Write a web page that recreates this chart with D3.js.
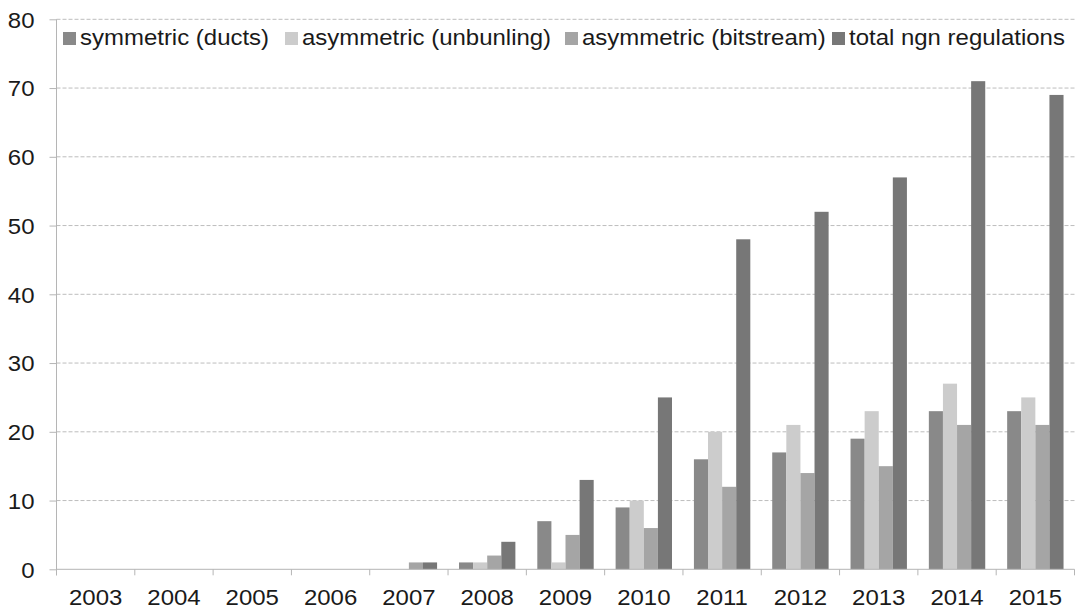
<!DOCTYPE html>
<html>
<head>
<meta charset="utf-8">
<script src="https://cdn.jsdelivr.net/npm/d3@7"></script>
<style>
  body { margin: 0; background: #fff; }
  svg text { font-family: "Liberation Sans", Arial, sans-serif; fill: #1a1a1a; }
</style>
</head>
<body>
<svg class="svgChart"></svg>
<script>
// data
const years = ['2003', '2004', '2005', '2006', '2007', '2008', '2009', '2010', '2011', '2012', '2013', '2014', '2015'];
const seriesNames = ['symmetric (ducts)', 'asymmetric (unbunling)', 'asymmetric (bitstream)', 'total ngn regulations'];
const symmetric = [0, 0, 0, 0, 0, 1, 7, 9, 16, 17, 19, 23, 23];
const unbundling = [0, 0, 0, 0, 0, 1, 1, 10, 20, 21, 23, 27, 25];
const bitstream = [0, 0, 0, 0, 1, 2, 5, 6, 12, 14, 15, 21, 21];
const total = [0, 0, 0, 0, 1, 4, 13, 25, 48, 52, 57, 71, 69];
const yTicks = [0, 10, 20, 30, 40, 50, 60, 70, 80];
const colors = ['#898989', '#cccccc', '#a5a5a5', '#777777'];

const margin = { top: 19.3, right: 4.5, bottom: 40.7, left: 56.5 };
const fullW = 1079, fullH = 610;
const width = fullW - margin.left - margin.right;
const height = fullH - margin.top - margin.bottom;
const fontSize = 22;
const stretch = 1.09; // the reference text is a bit wide for its height

const allSeries = [symmetric, unbundling, bitstream, total];

const svg = d3.select('.svgChart')
  .attr('width', fullW)
  .attr('height', fullH);

const g = svg.append('g')
  .attr('transform', `translate(${margin.left}, ${margin.top})`);

const xScale = d3.scaleBand()
  .domain(years)
  .range([0, width])
  .paddingInner(0.28)
  .paddingOuter(0.14);

const xInner = d3.scaleBand()
  .domain(seriesNames)
  .range([0, xScale.bandwidth()]);

const yScale = d3.scaleLinear()
  .domain([0, 80])
  .range([height, 0]);

// gridlines
g.append('g')
  .selectAll('line')
  .data(yTicks.filter(d => d > 0))
  .enter()
  .append('line')
    .attr('x1', 0)
    .attr('x2', width)
    .attr('y1', d => yScale(d))
    .attr('y2', d => yScale(d))
    .attr('stroke', '#bdbdbd')
    .attr('stroke-dasharray', '4,2');

// bars
const groups = g.append('g')
  .selectAll('g')
  .data(years)
  .enter()
  .append('g')
    .attr('transform', d => `translate(${xScale(d)}, 0)`);

groups.selectAll('rect')
  .data((d, i) => seriesNames.map((s, j) => ({ key: s, value: allSeries[j][i], idx: j })))
  .enter()
  .append('rect')
    .attr('x', d => xInner(d.key))
    .attr('y', d => yScale(d.value))
    .attr('width', xInner.bandwidth())
    .attr('height', d => height - yScale(d.value))
    .attr('fill', d => colors[d.idx]);

// y axis
const yAxis = d3.axisLeft(yScale)
  .tickValues(yTicks)
  .tickSize(7)
  .tickPadding(15);

g.append('g')
  .attr('class', 'yAxis')
  .call(yAxis)
  .call(a => a.select('.domain').attr('stroke', '#b5b5b5').attr('d', `M0,0V${height + 6}`))
  .call(a => a.selectAll('.tick line').attr('stroke', '#b5b5b5'))
  .call(a => a.selectAll('.tick text')
    .attr('font-size', fontSize)
    .attr('dy', '0.36em')
    .attr('transform', `scale(${stretch},1)`)
    .attr('x', -22 / stretch));

// x axis: ticks between categories
g.append('line')
  .attr('x1', 0)
  .attr('x2', width)
  .attr('y1', height)
  .attr('y2', height)
  .attr('stroke', '#b5b5b5');

const step = xScale.step();
g.append('g')
  .selectAll('line')
  .data(d3.range(years.length + 1))
  .enter()
  .append('line')
    .attr('x1', d => d * step)
    .attr('x2', d => d * step)
    .attr('y1', height)
    .attr('y2', height + 6)
    .attr('stroke', '#b5b5b5');

g.append('g')
  .selectAll('text')
  .data(years)
  .enter()
  .append('text')
    .attr('transform', d => `translate(${xScale(d) + xScale.bandwidth() / 2}, ${height + 36}) scale(${stretch},1)`)
    .attr('text-anchor', 'middle')
    .attr('font-size', fontSize)
    .text(d => d);

// legend
const legendX = [63, 285, 565, 832];
const legend = svg.append('g')
  .selectAll('g')
  .data(seriesNames)
  .enter()
  .append('g')
    .attr('transform', (d, i) => `translate(${legendX[i]}, 32)`);

legend.append('rect')
  .attr('width', 13)
  .attr('height', 13)
  .attr('fill', (d, i) => colors[i]);

legend.append('text')
  .attr('transform', `translate(17, 13) scale(${stretch},1)`)
  .attr('font-size', fontSize)
  .text(d => d);
</script>
</body>
</html>
